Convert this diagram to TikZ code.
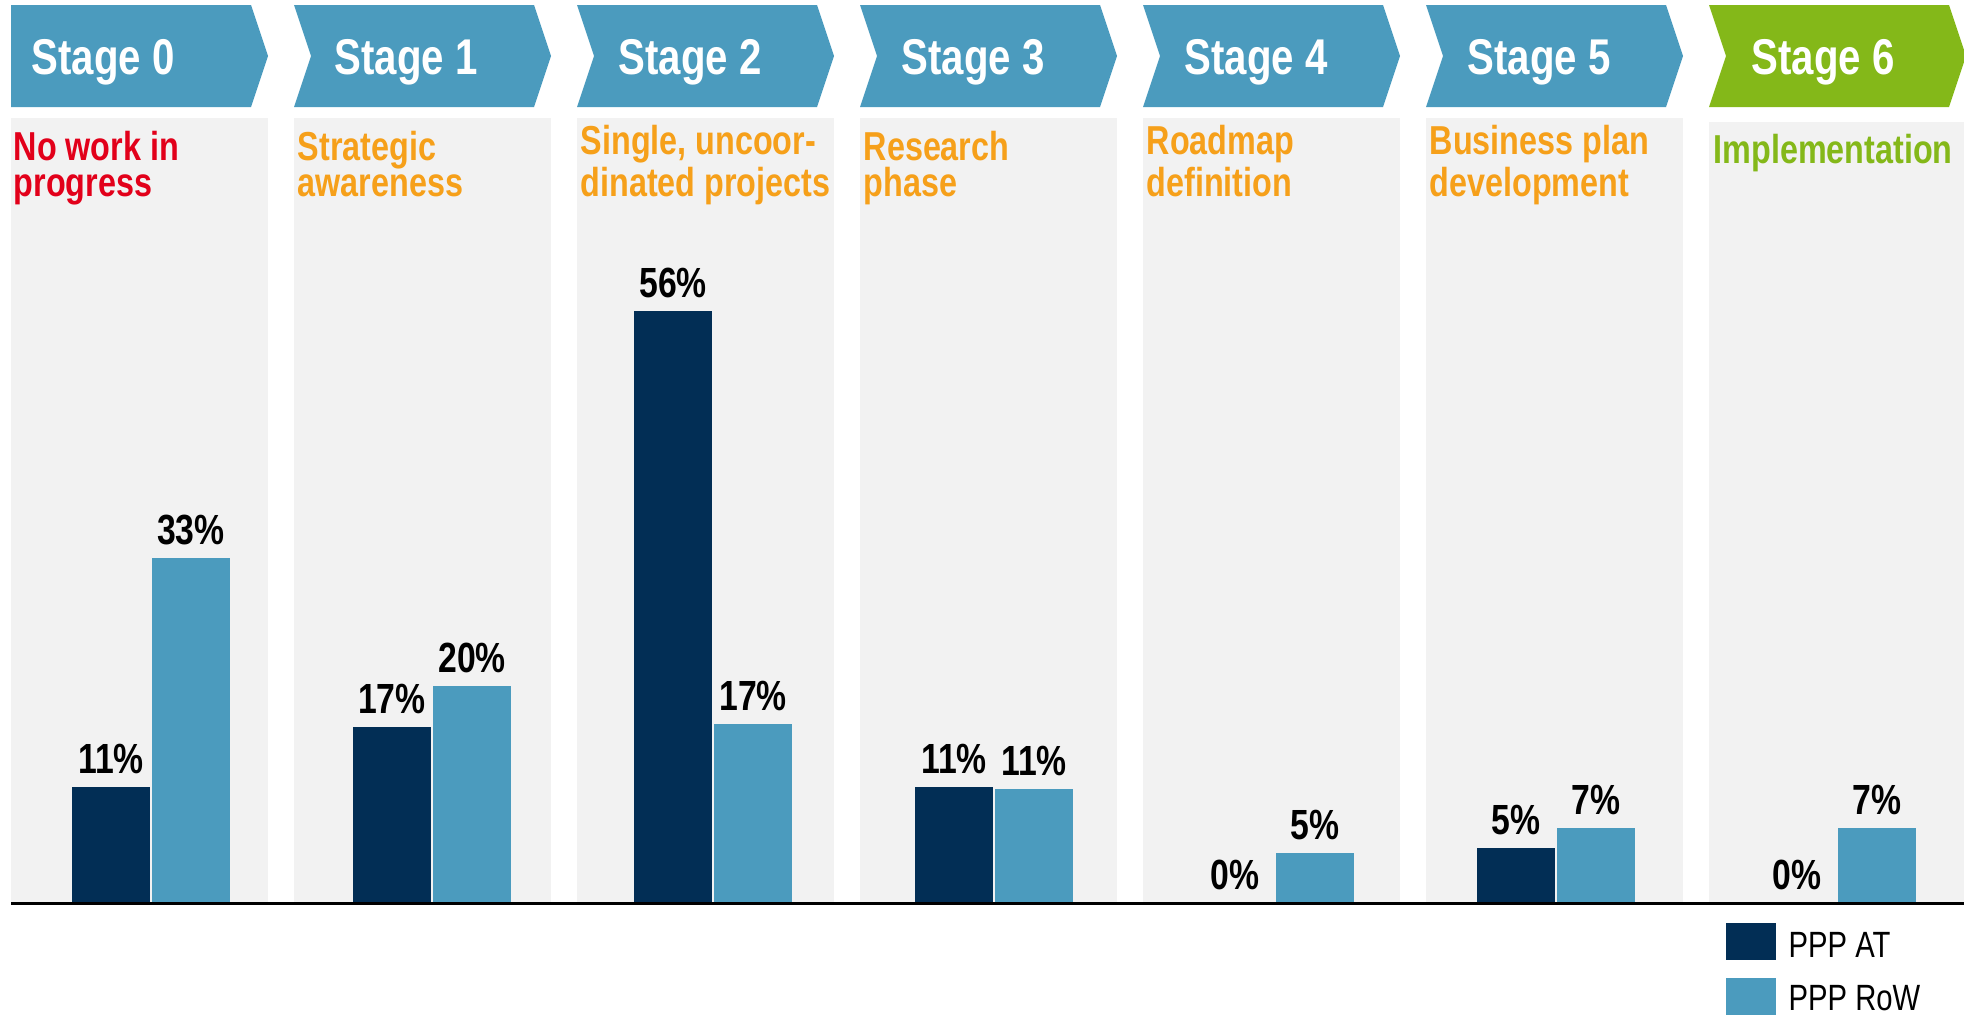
\documentclass[tikz,border=0pt]{standalone}
\usepackage{fontspec}
\setmainfont{Liberation Sans}[FakeStretch=0.8]
\usetikzlibrary{positioning}

\definecolor{stageblue}{HTML}{4B9BBE}
\definecolor{stagegreen}{HTML}{84B819}
\definecolor{atnavy}{HTML}{022E55}
\definecolor{panelgrey}{HTML}{F2F2F2}
\definecolor{titlered}{HTML}{E2001A}
\definecolor{titleorange}{HTML}{F6A01A}

\begin{document}
\begin{tikzpicture}[
  x=0.1mm, y=-0.1mm,
  panel/.style={fill=panelgrey},
  chevblue/.style={fill=stageblue},
  chevgreen/.style={fill=stagegreen},
  stagetext/.style={anchor=base west, inner sep=0, text=white,
                    font=\fontsize{14.3}{16}\selectfont\bfseries},
  titletext/.style={anchor=base west, inner sep=0, align=left,
                    font=\fontsize{11.5}{10}\selectfont\bfseries},
  atbar/.style={fill=atnavy},
  rowbar/.style={fill=stageblue},
  pct/.style={anchor=base, inner sep=0, font=\fontsize{12}{12}\selectfont\bfseries},
  legtext/.style={anchor=base west, inner sep=0, font=\fontsize{10.4}{12}\selectfont}
]
\useasboundingbox (0,0) rectangle (1964,1015);

% Grey columns behind the bars
\fill[panel] (11,118) rectangle (268,903);
\fill[panel] (294,118) rectangle (551,903);
\fill[panel] (577,118) rectangle (834,903);
\fill[panel] (860,118) rectangle (1117,903);
\fill[panel] (1143,118) rectangle (1400,903);
\fill[panel] (1426,118) rectangle (1683,903);
\fill[panel] (1709,122) rectangle (1966,903);

% Stage arrows
\fill[chevblue] (11,5) -- (251,5) -- (268,56) -- (251,107) -- (11,107) -- cycle;
\fill[chevblue] (294,5) -- (534,5) -- (551,56) -- (534,107) -- (294,107) -- (311,56) -- cycle;
\fill[chevblue] (577,5) -- (817,5) -- (834,56) -- (817,107) -- (577,107) -- (594,56) -- cycle;
\fill[chevblue] (860,5) -- (1100,5) -- (1117,56) -- (1100,107) -- (860,107) -- (877,56) -- cycle;
\fill[chevblue] (1143,5) -- (1383,5) -- (1400,56) -- (1383,107) -- (1143,107) -- (1160,56) -- cycle;
\fill[chevblue] (1426,5) -- (1666,5) -- (1683,56) -- (1666,107) -- (1426,107) -- (1443,56) -- cycle;
\fill[chevgreen] (1709,5) -- (1949,5) -- (1966,56) -- (1949,107) -- (1709,107) -- (1726,56) -- cycle;

\node[stagetext] (st0) at (31,74)   {Stage 0};
\node[stagetext] (st1) at (334,74)  {Stage 1};
\node[stagetext] (st2) at (618,74)  {Stage 2};
\node[stagetext] (st3) at (901,74)  {Stage 3};
\node[stagetext] (st4) at (1184,74) {Stage 4};
\node[stagetext] (st5) at (1467,74) {Stage 5};
\node[stagetext] (st6) at (1751,74) {Stage 6};

% Stage titles (anchored on the last line)
\node[titletext, text=titlered]    (ti0) at (13,196)   {No work in\\progress};
\node[titletext, text=titleorange] (ti1) at (297,196)  {Strategic\\awareness};
\node[titletext, text=titleorange] (ti2) at (580,196)  {Single, uncoor-\\dinated projects};
\node[titletext, text=titleorange] (ti3) at (863,196)  {Research\\phase};
\node[titletext, text=titleorange] (ti4) at (1146,196) {Roadmap\\definition};
\node[titletext, text=titleorange] (ti5) at (1429,196) {Business plan\\development};
\node[titletext, text=stagegreen]  (ti6) at (1713,163) {Implementation};

% Bars: PPP AT left, PPP RoW right
\fill[atbar]  (72,787) rectangle (150,903);
\fill[rowbar] (152,558) rectangle (230,903);
\fill[atbar]  (353,727) rectangle (431,903);
\fill[rowbar] (433,686) rectangle (511,903);
\fill[atbar]  (634,311) rectangle (712,903);
\fill[rowbar] (714,724) rectangle (792,903);
\fill[atbar]  (915,787) rectangle (993,903);
\fill[rowbar] (995,789) rectangle (1073,903);
\fill[rowbar] (1276,853) rectangle (1354,903);
\fill[atbar]  (1477,848) rectangle (1555,903);
\fill[rowbar] (1557,828) rectangle (1635,903);
\fill[rowbar] (1838,828) rectangle (1916,903);

% Baseline
\coordinate (axl) at (11,903);
\coordinate (axr) at (1964,903);
\draw[line width=0.3mm] (axl) -- (axr);

% Values
\node[pct] (v0a) at (111,773)  {11\%};
\node[pct] (v0r) at (191,544)  {33\%};
\node[pct] (v1a) at (392,713)  {17\%};
\node[pct] (v1r) at (472,672)  {20\%};
\node[pct] (v2a) at (673,297)  {56\%};
\node[pct] (v2r) at (753,710)  {17\%};
\node[pct] (v3a) at (954,773)  {11\%};
\node[pct] (v3r) at (1034,775) {11\%};
\node[pct] (v4a) at (1235,889) {0\%};
\node[pct] (v4r) at (1315,839) {5\%};
\node[pct] (v5a) at (1516,834) {5\%};
\node[pct] (v5r) at (1596,814) {7\%};
\node[pct] (v6a) at (1797,889) {0\%};
\node[pct] (v6r) at (1877,814) {7\%};

% Legend
\fill[atbar]  (1726,923) rectangle (1776,960);
\fill[rowbar] (1726,978) rectangle (1776,1015);
\node[legtext] (lgat)  at (1788,957)  {PPP AT};
\node[legtext] (lgrow) at (1788,1010) {PPP RoW};

\end{tikzpicture}
\end{document}
